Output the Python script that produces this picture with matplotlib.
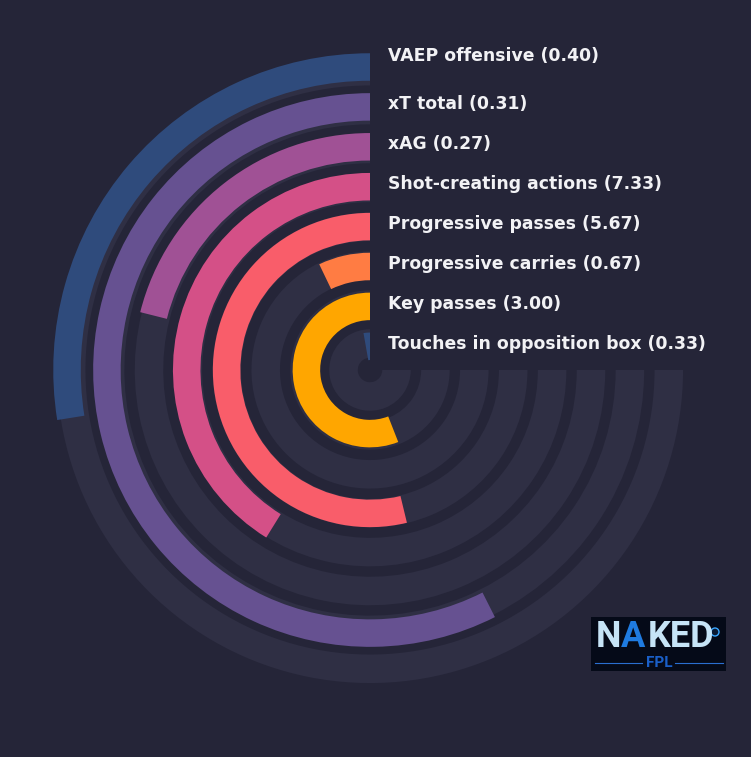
import numpy as np
import matplotlib
matplotlib.use("Agg")
import matplotlib.pyplot as plt
from matplotlib.lines import Line2D
from matplotlib.patches import Circle

# ---- data (innermost ring first) ----
metrics = ["Touches in opposition box", "Key passes", "Progressive carries",
           "Progressive passes", "Shot-creating actions", "xAG", "xT total",
           "VAEP offensive"]
raw_values = [0.33, 3.00, 0.67, 5.67, 7.33, 0.27, 0.31, 0.40]
percentiles = [3.7, 74.6, 9.5, 71.7, 54.9, 28.1, 76.6, 36.7]
bar_colors = ["#2f4b7c", "#ffa600", "#ff7c43", "#f95d6a", "#d45087",
              "#a05195", "#665191", "#2f4b7c"]

BG = "#252538"
TRACK = "#2f2f44"
TEXT = "#f2f2f5"

W, H = 751, 757
cx, cy = 370, 370          # centre in pixels (from top-left)
R = 330                    # axes radius in pixels

fig = plt.figure(figsize=(W / 100, H / 100), dpi=100, facecolor=BG)
ax = fig.add_axes([(cx - R) / W, (H - cy - R) / H, 2 * R / W, 2 * R / H],
                  projection="polar")
ax.set_facecolor(BG)
ax.set_theta_zero_location("N")
ax.set_theta_direction(1)
ax.set_ylim(0, R)
ax.axis("off")

full = 1.5 * np.pi
n = len(metrics)
for i in range(n):
    # background track
    ax.barh(26.5 + 38.9 * i, full, left=0, height=28.5, color=TRACK,
            edgecolor="none", zorder=1)
    # value bar
    ax.barh(23.7 + 39.9 * i, percentiles[i] / 100 * full, left=0, height=27.5,
            color=bar_colors[i], edgecolor="none", zorder=2)
    # label
    r_lab = 21 + 40 * i + (8 if i == n - 1 else 0)
    fig.text(388 / W, (H - cy + r_lab) / H, f"{metrics[i]} ({raw_values[i]:.2f})",
             ha="left", va="baseline", fontsize=12.4, fontweight="bold",
             color=TEXT, family="DejaVu Sans")

# ---- logo ----
lx0, ly0, lw, lh = 591, 617, 135, 54
lax = fig.add_axes([lx0 / W, (H - ly0 - lh) / H, lw / W, lh / H])
lax.set_xlim(0, lw)
lax.set_ylim(lh, 0)
lax.set_facecolor("#050a18")
for s in lax.spines.values():
    s.set_visible(False)
lax.set_xticks([])
lax.set_yticks([])
light = "#c6e4f7"
blue = "#1f7be0"
lax.text(5, 30, "N", color=light, fontsize=26, fontweight="bold",
         family="Roboto", va="baseline", ha="left")
lax.text(30, 30, "A", color=blue, fontsize=26, fontweight="bold",
         family="Roboto", va="baseline", ha="left")
lax.text(57, 30, "KED", color=light, fontsize=26, fontweight="bold",
         family="Roboto", va="baseline", ha="left")
lax.add_patch(Circle((124, 15), 4, facecolor="#0a1a33", edgecolor="#39a6ff", lw=1))
lax.add_line(Line2D([4, 51], [45.5, 45.5], color="#2a6fd0", lw=0.8))
lax.add_line(Line2D([84, 132], [45.5, 45.5], color="#2a6fd0", lw=0.8))
lax.text(68, 50, "FPL", color="#1a5fc8", fontsize=11, fontweight="bold",
         family="Roboto", va="baseline", ha="center")

fig.savefig("out.png", dpi=100, facecolor=BG)
